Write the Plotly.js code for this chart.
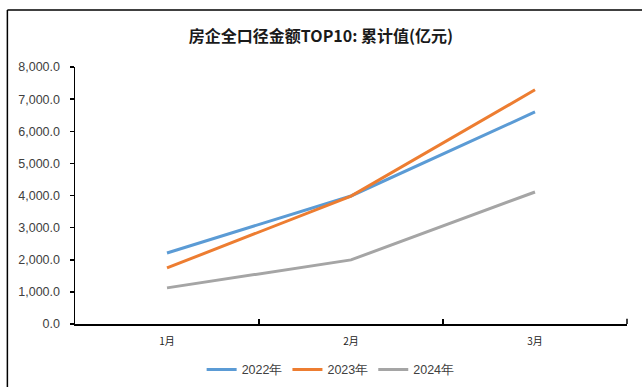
<!DOCTYPE html>
<html>
<head>
<meta charset="utf-8">
<script src="https://cdn.plot.ly/plotly-3.0.1.min.js"></script>
<style>
html,body{margin:0;padding:0;background:#fff;overflow:hidden;}
#chart{width:642px;height:387px;}
</style>
</head>
<body>
<div id="chart"></div>
<script>
const months = ["1月", "2月", "3月"];
const seriesNames = ["2022年", "2023年", "2024年"];
const v2022 = [2210, 3985, 6600];
const v2023 = [1745, 3980, 7290];
const v2024 = [1125, 1995, 4110];
const colors = ["#5B9BD5", "#ED7D31", "#A5A5A5"];

const allValues = [v2022, v2023, v2024];
const traces = allValues.map((vals, i) => ({
  type: "scatter",
  mode: "lines",
  x: months,
  y: vals,
  name: seriesNames[i],
  line: {color: colors[i], width: 3}
}));

const layout = {
  width: 642,
  height: 387,
  margin: {l: 75, r: 15, t: 67, b: 63, autoexpand: false},
  paper_bgcolor: "#ffffff",
  plot_bgcolor: "#ffffff",
  font: {family: "Liberation Sans, Arial, sans-serif", size: 12, color: "#404040"},
  title: {
    text: "<b>房企全口径金额TOP10: 累计值(亿元)</b>",
    font: {family: "Noto Sans CJK SC, sans-serif", size: 16, color: "#1a1a1a"},
    x: 0.5, xanchor: "center",
    y: 0.905, yref: "container", yanchor: "middle"
  },
  xaxis: {
    type: "category",
    range: [-0.5, 2.5],
    showline: true, linecolor: "#000", linewidth: 1.5,
    ticks: "inside", tickson: "boundaries", ticklen: 5, tickcolor: "#000", tickwidth: 1.5,
    showgrid: false, zeroline: false,
    ticklabelstandoff: 7,
    tickfont: {family: "Noto Sans CJK SC, sans-serif", size: 10, color: "#222"},
    fixedrange: true
  },
  yaxis: {
    range: [0, 8000],
    dtick: 1000,
    tickformat: ",.1f",
    showline: true, linecolor: "#000", linewidth: 1.5,
    ticks: "outside", ticklen: 4, tickcolor: "#000", tickwidth: 1.5,
    showgrid: false, zeroline: false,
    ticklabelstandoff: 7,
    tickfont: {family: "Liberation Sans, Arial, sans-serif", size: 12.5, color: "#404040"},
    fixedrange: true
  },
  showlegend: true,
  legend: {
    orientation: "h",
    xref: "container", yref: "container",
    x: 0.515, xanchor: "center",
    y: 0.044, yanchor: "middle",
    font: {family: "Liberation Sans, Arial, sans-serif", size: 12.5, color: "#404040"},
    itemwidth: 30
  },
  shapes: [
    {type: "line", xref: "paper", yref: "paper", x0: -0.1225, x1: 2, y0: 1.2218, y1: 1.2218,
     line: {color: "#000", width: 1.5}},
    {type: "line", xref: "paper", yref: "paper", x0: -0.1225, x1: -0.1225, y0: 1.2218, y1: -1,
     line: {color: "#000", width: 1.5}},
    {type: "line", xref: "paper", yref: "paper", x0: 1, x1: 1, y0: 0, y1: 0.02,
     line: {color: "#000", width: 1.5}}
  ]
};

Plotly.newPlot("chart", traces, layout, {staticPlot: true, displayModeBar: false});
</script>
</body>
</html>
